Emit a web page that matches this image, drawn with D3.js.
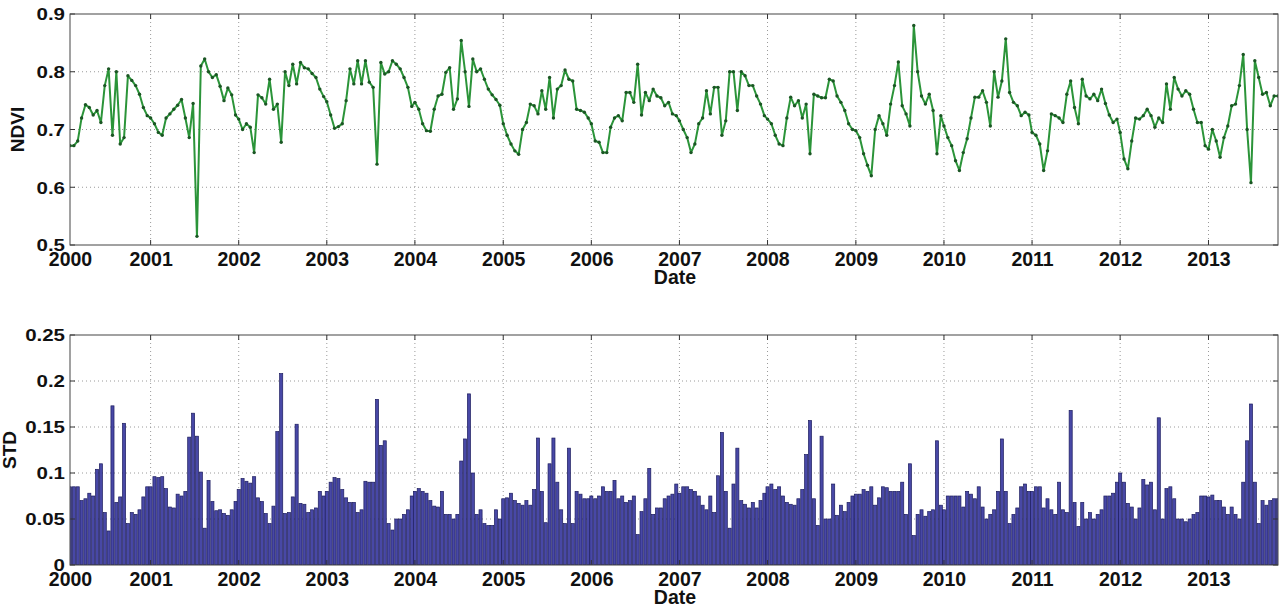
<!DOCTYPE html>
<html>
<head>
<meta charset="utf-8">
<script src="https://cdn.jsdelivr.net/npm/d3@7"></script>
<style>
  body { margin: 0; background: #fff; }
  svg { display: block; font-family: "Liberation Sans", Arial, sans-serif; }
</style>
</head>
<body>
<div id="chart"></div>
<script>
// 16-day composites (day of year), series runs from 2000 doy 33 to 2013 doy 289
const compositeDoy = [1, 17, 33, 49, 65, 81, 97, 113, 129, 145, 161, 177, 193, 209, 225, 241, 257, 273, 289, 305, 321, 337, 353];
const firstDoy = 33;
const lastDoy = 289;
const years = [2000, 2001, 2002, 2003, 2004, 2005, 2006, 2007, 2008, 2009, 2010, 2011, 2012, 2013];

const ndvi = [
  0.672, 0.672, 0.68, 0.72, 0.743, 0.738, 0.725, 0.733, 0.712, 0.776, 0.805, 0.69, 0.80, 0.675, 0.686, 0.793, 0.785, 0.776, 0.761, 0.738, 0.724, // 2000
  0.72, 0.71, 0.695, 0.69, 0.72, 0.727, 0.735, 0.742, 0.752, 0.72, 0.686, 0.745, 0.515, 0.81, 0.822, 0.80, 0.79, 0.795, 0.775, 0.75, 0.772, 0.76, 0.725, // 2001
  0.718, 0.70, 0.71, 0.704, 0.66, 0.76, 0.755, 0.744, 0.787, 0.735, 0.744, 0.678, 0.80, 0.776, 0.813, 0.779, 0.816, 0.807, 0.805, 0.797, 0.79, 0.77, 0.757, // 2002
  0.748, 0.725, 0.702, 0.705, 0.71, 0.75, 0.805, 0.779, 0.819, 0.779, 0.819, 0.782, 0.773, 0.64, 0.816, 0.796, 0.80, 0.819, 0.813, 0.805, 0.79, 0.773, 0.74, // 2003
  0.747, 0.735, 0.71, 0.698, 0.697, 0.735, 0.758, 0.761, 0.799, 0.807, 0.735, 0.753, 0.854, 0.80, 0.74, 0.822, 0.80, 0.805, 0.787, 0.77, 0.76, 0.752, 0.742, // 2004
  0.71, 0.69, 0.675, 0.663, 0.657, 0.70, 0.712, 0.744, 0.741, 0.727, 0.767, 0.735, 0.79, 0.72, 0.77, 0.776, 0.803, 0.787, 0.784, 0.735, 0.733, 0.73, 0.72, // 2005
  0.71, 0.68, 0.678, 0.66, 0.66, 0.704, 0.72, 0.724, 0.715, 0.764, 0.764, 0.747, 0.813, 0.725, 0.764, 0.75, 0.77, 0.758, 0.755, 0.741, 0.747, 0.727, 0.724, // 2006
  0.715, 0.70, 0.686, 0.66, 0.675, 0.71, 0.72, 0.767, 0.727, 0.773, 0.773, 0.69, 0.715, 0.80, 0.80, 0.733, 0.80, 0.793, 0.776, 0.776, 0.758, 0.744, 0.724, // 2007
  0.718, 0.71, 0.69, 0.675, 0.672, 0.72, 0.756, 0.741, 0.75, 0.72, 0.744, 0.658, 0.761, 0.758, 0.755, 0.755, 0.787, 0.784, 0.758, 0.747, 0.733, 0.71, 0.70, // 2008
  0.698, 0.686, 0.658, 0.638, 0.62, 0.70, 0.724, 0.71, 0.69, 0.744, 0.776, 0.817, 0.741, 0.727, 0.706, 0.88, 0.80, 0.758, 0.744, 0.761, 0.733, 0.658, 0.724, // 2009
  0.706, 0.686, 0.672, 0.646, 0.629, 0.66, 0.684, 0.72, 0.756, 0.756, 0.767, 0.747, 0.706, 0.80, 0.756, 0.784, 0.857, 0.764, 0.747, 0.741, 0.724, 0.73, 0.725, // 2010
  0.695, 0.69, 0.675, 0.629, 0.663, 0.727, 0.724, 0.72, 0.712, 0.761, 0.784, 0.738, 0.71, 0.787, 0.758, 0.753, 0.761, 0.75, 0.77, 0.745, 0.725, 0.712, 0.718, // 2011
  0.695, 0.649, 0.632, 0.68, 0.72, 0.718, 0.724, 0.735, 0.724, 0.704, 0.72, 0.712, 0.779, 0.735, 0.79, 0.77, 0.758, 0.767, 0.761, 0.735, 0.712, 0.712, 0.672, // 2012
  0.666, 0.70, 0.68, 0.652, 0.686, 0.706, 0.741, 0.744, 0.776, 0.83, 0.70, 0.608, 0.819, 0.79, 0.761, 0.764, 0.741, 0.758, 0.758 // 2013
];

const stdev = [
  0.085, 0.085, 0.085, 0.07, 0.072, 0.078, 0.075, 0.104, 0.11, 0.057, 0.037, 0.173, 0.068, 0.074, 0.154, 0.045, 0.057, 0.055, 0.06, 0.074, 0.085, // 2000
  0.085, 0.096, 0.095, 0.096, 0.083, 0.063, 0.062, 0.077, 0.075, 0.08, 0.139, 0.165, 0.14, 0.101, 0.04, 0.092, 0.069, 0.059, 0.06, 0.056, 0.054, 0.06, 0.069, // 2001
  0.082, 0.094, 0.091, 0.089, 0.096, 0.073, 0.069, 0.056, 0.045, 0.064, 0.145, 0.208, 0.056, 0.057, 0.074, 0.153, 0.067, 0.066, 0.057, 0.06, 0.062, 0.08, 0.075, // 2002
  0.08, 0.09, 0.095, 0.094, 0.082, 0.073, 0.068, 0.068, 0.057, 0.06, 0.091, 0.09, 0.09, 0.18, 0.13, 0.135, 0.045, 0.038, 0.05, 0.05, 0.055, 0.06, 0.075, // 2003
  0.08, 0.083, 0.08, 0.078, 0.07, 0.064, 0.063, 0.08, 0.055, 0.055, 0.05, 0.055, 0.113, 0.137, 0.186, 0.1, 0.055, 0.06, 0.045, 0.043, 0.043, 0.06, 0.05, // 2004
  0.072, 0.073, 0.078, 0.07, 0.067, 0.065, 0.07, 0.065, 0.082, 0.138, 0.08, 0.046, 0.11, 0.138, 0.09, 0.06, 0.045, 0.127, 0.045, 0.08, 0.077, 0.072, 0.072, // 2005
  0.075, 0.072, 0.075, 0.085, 0.08, 0.08, 0.092, 0.072, 0.075, 0.068, 0.07, 0.075, 0.033, 0.058, 0.072, 0.105, 0.055, 0.062, 0.062, 0.072, 0.075, 0.077, 0.088, // 2006
  0.078, 0.085, 0.085, 0.082, 0.08, 0.075, 0.065, 0.06, 0.075, 0.057, 0.097, 0.144, 0.08, 0.04, 0.088, 0.127, 0.07, 0.066, 0.062, 0.068, 0.062, 0.07, 0.078, // 2007
  0.085, 0.088, 0.082, 0.085, 0.075, 0.068, 0.066, 0.065, 0.072, 0.082, 0.12, 0.157, 0.072, 0.043, 0.14, 0.05, 0.05, 0.088, 0.054, 0.065, 0.058, 0.068, 0.075, // 2008
  0.077, 0.077, 0.082, 0.08, 0.085, 0.065, 0.073, 0.085, 0.084, 0.08, 0.08, 0.08, 0.09, 0.055, 0.11, 0.032, 0.055, 0.06, 0.053, 0.058, 0.06, 0.135, 0.065, // 2009
  0.06, 0.075, 0.075, 0.075, 0.075, 0.063, 0.08, 0.077, 0.072, 0.085, 0.063, 0.05, 0.055, 0.06, 0.08, 0.137, 0.08, 0.045, 0.055, 0.062, 0.085, 0.088, 0.08, // 2010
  0.08, 0.085, 0.085, 0.062, 0.072, 0.06, 0.055, 0.09, 0.06, 0.057, 0.168, 0.068, 0.042, 0.068, 0.05, 0.057, 0.05, 0.055, 0.06, 0.075, 0.075, 0.078, 0.09, // 2011
  0.1, 0.09, 0.067, 0.063, 0.05, 0.062, 0.093, 0.087, 0.09, 0.06, 0.16, 0.05, 0.083, 0.085, 0.072, 0.05, 0.05, 0.047, 0.05, 0.055, 0.057, 0.075, 0.075, // 2012
  0.074, 0.076, 0.07, 0.07, 0.063, 0.055, 0.063, 0.055, 0.05, 0.09, 0.135, 0.175, 0.09, 0.045, 0.07, 0.065, 0.07, 0.072, 0.072 // 2013
];

const ndviTicks = [0.5, 0.6, 0.7, 0.8, 0.9];
const stdTicks = [0, 0.05, 0.1, 0.15, 0.2, 0.25];

// dates of every composite
const dates = [];
years.forEach(yr => compositeDoy.forEach(doy => {
  if (yr === years[0] && doy < firstDoy) return;
  if (yr === years[years.length - 1] && doy > lastDoy) return;
  dates.push(new Date(yr, 0, doy));
}));

const width = 1279;
const height = 607;
const left = 70;
const right = 1278;

const svg = d3.select('#chart')
  .append('svg')
  .attr('width', width)
  .attr('height', height);

const x = d3.scaleTime()
  .domain(d3.extent(dates))
  .range([left, right]);

// first label sits on the left edge, the others on 1 January
const xTicks = [dates[0]].concat(years.slice(1).map(yr => new Date(yr, 0, 1)));

const yNdvi = d3.scaleLinear().domain([0.5, 0.9]).range([245, 14]);
const yStd = d3.scaleLinear().domain([0, 0.25]).range([565, 335]);

function drawFrame(y, yTicks, yFormat, label, labelX, clipId) {
  const [bottom, top] = y.range();
  const g = svg.append('g');

  g.append('clipPath').attr('id', clipId)
    .append('rect')
    .attr('x', left).attr('y', top)
    .attr('width', right - left).attr('height', bottom - top);

  // dotted grid
  g.selectAll('.hgrid')
    .data(yTicks.slice(1, -1))
    .enter().append('line')
    .attr('x1', left).attr('x2', right)
    .attr('y1', d => y(d)).attr('y2', d => y(d))
    .attr('stroke', '#9a9a9a').attr('stroke-width', 1)
    .attr('stroke-dasharray', '1,3');
  g.selectAll('.vgrid')
    .data(xTicks.slice(1))
    .enter().append('line')
    .attr('x1', d => x(d)).attr('x2', d => x(d))
    .attr('y1', top).attr('y2', bottom)
    .attr('stroke', '#9a9a9a').attr('stroke-width', 1)
    .attr('stroke-dasharray', '1,3');

  // tick labels (y labels are drawn wide, as in the source figure)
  const yAxis = g.append('g')
    .attr('transform', `translate(${left},0)`)
    .call(d3.axisLeft(y).tickValues(yTicks).tickSize(0).tickFormat(yFormat));
  yAxis.select('.domain').remove();
  yAxis.selectAll('text')
    .attr('x', -5 / 1.28)
    .attr('dy', '0.36em')
    .attr('transform', 'scale(1.28,1)')
    .attr('font-size', 16)
    .attr('font-weight', 'bold')
    .attr('fill', '#111');

  const xAxis = g.append('g')
    .attr('transform', `translate(0,${bottom})`)
    .call(d3.axisBottom(x).tickValues(xTicks).tickSize(0).tickFormat(d3.timeFormat('%Y')));
  xAxis.select('.domain').remove();
  xAxis.selectAll('text')
    .attr('y', 21)
    .attr('dy', 0)
    .attr('font-size', 19.5)
    .attr('font-weight', 'bold')
    .attr('fill', '#111');

  g.append('text')
    .attr('transform', `translate(${labelX},${(top + bottom) / 2}) rotate(-90)`)
    .attr('text-anchor', 'middle')
    .attr('font-size', 19)
    .attr('font-weight', 'bold')
    .attr('fill', '#111')
    .text(label);

  g.append('text')
    .attr('x', 675)
    .attr('y', bottom + 39)
    .attr('text-anchor', 'middle')
    .attr('font-size', 19.5)
    .attr('font-weight', 'bold')
    .attr('fill', '#111')
    .text('Date');

  return g;
}

function drawBox(y, yTicks) {
  const [bottom, top] = y.range();
  const g = svg.append('g');
  // inner ticks on all four sides
  [[left, 5], [right, -5]].forEach(([x0, len]) => {
    g.selectAll(null)
      .data(yTicks)
      .enter().append('line')
      .attr('x1', x0).attr('x2', x0 + len)
      .attr('y1', d => y(d)).attr('y2', d => y(d))
      .attr('stroke', '#333');
  });
  [[bottom, -5], [top, 5]].forEach(([y0, len]) => {
    g.selectAll(null)
      .data(xTicks.slice(1))
      .enter().append('line')
      .attr('x1', d => x(d)).attr('x2', d => x(d))
      .attr('y1', y0).attr('y2', y0 + len)
      .attr('stroke', '#333');
  });
  g.append('rect')
    .attr('x', left).attr('y', top)
    .attr('width', right - left).attr('height', bottom - top)
    .attr('fill', 'none')
    .attr('stroke', '#444')
    .attr('stroke-width', 1);
}

// ---- NDVI panel
drawFrame(yNdvi, ndviTicks, d3.format('.1f'), 'NDVI', 24, 'clipTop');

const line = d3.line()
  .x((d, i) => x(dates[i]))
  .y(d => yNdvi(d));

const ndviG = svg.append('g').attr('clip-path', 'url(#clipTop)');
ndviG.append('path')
  .datum(ndvi)
  .attr('d', line)
  .attr('fill', 'none')
  .attr('stroke', '#2b9439')
  .attr('stroke-width', 2)
  .attr('stroke-linejoin', 'round');
ndviG.selectAll('.pt')
  .data(ndvi)
  .enter().append('circle')
  .attr('cx', (d, i) => x(dates[i]))
  .attr('cy', d => yNdvi(d))
  .attr('r', 1.7)
  .attr('fill', '#1b5624');

drawBox(yNdvi, ndviTicks);

// ---- STD panel
drawFrame(yStd, stdTicks, d => String(d), 'STD', 16, 'clipBottom');

const step = x(dates[1]) - x(dates[0]);
const barWidth = step * 0.8;

svg.append('g')
  .attr('clip-path', 'url(#clipBottom)')
  .selectAll('rect')
  .data(stdev)
  .enter().append('rect')
  .attr('x', (d, i) => x(dates[i]) - barWidth / 2)
  .attr('y', d => yStd(d))
  .attr('width', barWidth)
  .attr('height', d => yStd(0) - yStd(d))
  .attr('fill', '#4848a6')
  .attr('stroke', '#1c1c5e')
  .attr('stroke-width', 0.7);

drawBox(yStd, stdTicks);
</script>
</body>
</html>
